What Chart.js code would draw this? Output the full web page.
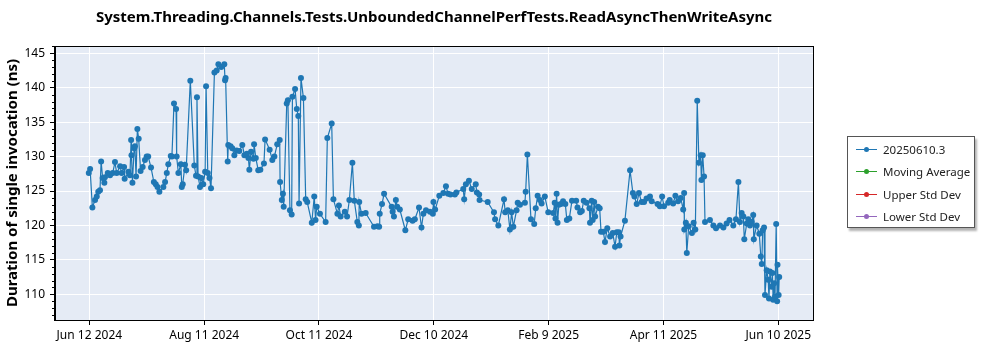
<!DOCTYPE html>
<html>
<head>
<meta charset="utf-8">
<script src="https://cdn.jsdelivr.net/npm/chart.js@4.4.0/dist/chart.umd.min.js"></script>
<style>
  body { margin: 0; background: #fff; }
  #wrap { position: relative; width: 1000px; height: 350px; }
  #legend {
    position: absolute; left: 847px; top: 136px; width: 128px; height: 92px;
    border: 1px solid #555; background: #fff; box-shadow: 2px 3px 2px rgba(0,0,0,0.3);
    font-family: "Noto Sans", sans-serif; font-size: 11.5px; color: #222;
    box-sizing: border-box; padding-top: 1px;
  }
  .row { height: 22.5px; display: flex; align-items: center; }
  .sample { position: relative; width: 21px; height: 1px; margin-left: 8px; margin-right: 6px; }
  .sample i { position: absolute; left: 8px; top: -2px; width: 5px; height: 5px; border-radius: 50%; }
</style>
</head>
<body>
<div id="wrap">
  <canvas id="myChart" width="1000" height="350"></canvas>
  <div id="legend"></div>
</div>
<script>
// days since Jun 12 2024
const days = [
  -0.3, 0.4, 1.6, 3.0, 3.9, 4.7, 5.6, 6.2, 7.0, 7.9, 8.2, 9.7, 10.9, 12.3, 13.5, 14.4, 16.2, 17.0, 18.3, 18.6,
  20.6, 21.4, 22.0, 22.2, 22.7, 23.6, 24.0, 24.6, 25.3, 26.0, 27.0, 28.1, 29.3, 30.2, 31.0, 32.5, 34.0, 35.0, 35.9, 36.9,
  39.0, 39.9, 40.8, 41.6, 42.9, 43.5, 44.6, 45.7, 46.0, 46.9, 48.2, 48.7, 49.2, 50.4, 51.0, 53.2,
  55.3, 56.2, 56.7, 57.3, 58.3, 59.0, 60.0, 61.0, 61.5, 62.4, 63.3, 64.1, 65.9, 67.1, 68.0, 69.5, 71.1, 71.5, 71.8,
  72.9, 73.2, 74.4, 75.3, 76.4, 77.6, 79.0, 80.6, 81.7, 83.0, 83.8, 84.3, 85.2, 86.5, 86.8, 87.7, 89.0, 90.1, 92.0, 92.6,
  95.0, 96.4, 97.5, 99.0, 100.3, 100.5, 101.4, 102.0, 102.4, 104.0, 104.6, 105.7, 106.6, 107.0, 108.4, 109.3, 110.1, 110.5,
  111.5, 112.8, 114.0, 114.8, 117.2, 118.5, 119.2, 119.8, 121.5, 124.5,
  125.4, 127.7, 128.6, 130.7, 131.5, 132.4, 134.6, 135.8, 137.0, 138.6, 139.6, 141.2, 142.0, 142.2, 143.4, 145.6,
  150.0, 151.8, 152.7, 153.0, 154.2, 155.3, 159.3, 159.8, 160.5, 161.5, 162.2, 163.6, 166.5, 168.0, 170.3, 171.5,
  173.7, 175.0, 176.0, 177.4, 179.5, 181.0, 181.3, 182.2, 184.4, 186.5, 187.9, 189.0, 190.3, 192.6, 193.4,
  197.0, 197.5, 198.4, 200.0, 201.5, 203.6, 204.2, 205.4, 205.6, 209.9, 213.2, 213.8, 215.5, 218.5, 219.1, 220.5,
  221.6, 222.5, 223.4, 225.1, 225.7, 226.9, 229.5, 229.9, 230.8, 232.7, 234.4, 235.2, 236.2, 237.4, 238.3, 240.0,
  241.8, 244.4, 245.2, 245.6, 246.2, 246.7, 247.4, 248.5, 249.6, 250.8, 251.6, 252.9, 254.3, 256.5, 257.2, 258.6,
  259.5, 260.5, 262.0, 263.5, 263.8, 264.7, 265.2,
  266.0, 266.5, 268.0, 268.9, 269.6, 270.8, 271.7, 272.9, 274.4, 275.8, 277.0, 277.9, 279.0, 279.3, 279.9, 282.2,
  284.9, 286.4, 287.2, 288.4, 289.6, 291.0, 292.3, 293.6, 295.4, 296.3, 299.4, 300.6, 301.8, 302.8, 305.0, 305.8,
  307.6, 308.8, 310.2, 311.6, 312.9, 313.4, 313.5, 314.3, 314.8, 315.8, 317.5, 318.4, 319.3, 320.3, 321.2, 322.1,
  322.5, 323.2, 323.9, 324.4, 327.0, 328.8, 330.2, 332.3, 334.1, 335.8, 337.3, 339.3, 340.7, 342.0, 342.8, 343.7,
  344.6, 345.1, 346.4, 347.2, 348.1, 349.0, 349.8, 350.1, 351.6, 353.0, 353.8, 354.3, 354.8, 355.5, 356.0, 356.9,
  357.7, 358.1, 358.6, 359.5, 359.9, 360.3, 360.8, 361.3, 361.9, 362.4, 362.6, 363.2, 363.5
];

// duration in ns
const durations = [
  127.6, 128.2, 122.6, 123.7, 124.2, 124.9, 125.1, 129.3, 126.9, 126.2, 127.0, 127.6, 127.3, 127.6, 129.2, 127.6, 128.6, 127.6, 128.5, 126.8,
  127.8, 127.3, 132.4, 130.2, 126.2, 131.2, 131.5, 127.1, 134.0, 132.6, 127.9, 128.5, 129.5, 130.0, 130.0, 128.4, 126.3, 126.0, 125.6, 124.9,
  125.6, 126.3, 127.6, 128.9, 130.1, 130.0, 137.7, 136.9, 130.0, 127.6, 128.9, 125.6, 126.0, 128.8, 128.0, 141.0,
  128.7, 127.2, 138.6, 127.1, 125.6, 126.9, 126.0, 127.8, 140.2, 127.6, 126.9, 125.4, 142.2, 142.5, 143.4, 143.0, 143.4, 141.1, 141.4,
  129.3, 131.7, 131.5, 131.2, 130.2, 130.9, 130.8, 131.7, 130.2, 130.4, 129.8, 128.1, 130.7, 129.7, 131.8, 129.8, 128.0, 128.1, 129.0, 132.5,
  131.0, 129.5, 130.0, 131.8, 132.4, 126.3, 123.7, 124.6, 122.7, 137.7, 138.2, 122.2, 121.6, 138.7, 139.8, 136.9, 135.9, 123.2,
  141.4, 138.5, 123.8, 123.4, 120.4, 124.2, 120.8, 122.7, 121.7, 120.5,
  132.7, 134.8, 123.8, 121.7, 122.9, 121.3, 122.0, 121.3, 123.7, 129.1, 123.6, 120.5, 120.0, 123.4, 121.7, 121.8,
  119.8, 119.9, 119.8, 121.7, 123.1, 124.6, 122.7, 122.0, 121.3, 123.7, 122.7, 122.3, 119.3, 120.9, 120.7, 120.9,
  122.6, 119.7, 121.7, 122.2, 122.0, 121.7, 123.4, 122.3, 124.3, 124.7, 125.7, 124.6, 124.5, 124.5, 124.8,
  125.3, 123.8, 126.0, 126.5, 125.3, 126.0, 124.8, 124.5, 123.7, 123.4, 121.9, 120.9, 120.0, 123.8, 121.9, 122.2,
  119.4, 121.9, 119.8, 122.2, 123.3, 123.0, 123.3, 124.9, 130.3, 120.9, 120.2, 122.5, 124.3, 123.7, 123.2, 124.2,
  121.9, 121.8, 123.3, 121.0, 124.6, 120.4, 123.0, 123.1, 123.5, 123.1, 120.8, 121.0, 123.6, 123.6, 122.6, 121.9,
  122.1, 123.6, 123.3, 122.5, 120.4, 123.6, 120.8,
  123.4, 121.3, 122.7, 122.5, 119.1, 119.1, 117.6, 119.6, 118.4, 118.9, 116.9, 119.0, 119.0, 117.1, 118.4, 120.7,
  128.0, 124.7, 124.2, 123.1, 124.7, 123.4, 123.4, 123.9, 124.2, 123.5, 123.1, 122.8, 124.2, 122.8, 123.3, 123.7,
  123.2, 124.3, 123.5, 124.0, 122.3, 124.7, 119.4, 120.4, 116.0, 119.9, 118.9, 120.4, 119.4, 138.1, 129.1, 130.2,
  126.6, 130.2, 127.1, 120.5, 120.8, 120.0, 119.6, 120.0, 119.7, 120.3, 120.8, 120.0, 120.9, 126.3, 120.5, 121.8,
  121.3, 118.0, 120.3, 120.9, 120.0, 120.5, 121.5, 118.0, 120.0, 118.8, 115.5, 114.4, 119.3, 119.7, 109.9, 113.5,
  112.1, 109.4, 113.3, 111.1, 113.1, 109.2, 111.6, 109.7, 120.2, 109.0, 114.3, 109.9, 112.5
];

const tickDays = [0, 60.5, 121, 181.5, 242, 302.5, 363];
const tickLabels = ['Jun 12 2024', 'Aug 11 2024', 'Oct 11 2024', 'Dec 10 2024', 'Feb 9 2025', 'Apr 11 2025', 'Jun 10 2025'];
const yTicks = [110, 115, 120, 125, 130, 135, 140, 145];

const seriesNames = ['20250610.3', 'Moving Average', 'Upper Std Dev', 'Lower Std Dev'];
const seriesColors = ['#1f77b4', '#2ca02c', '#d62728', '#9467bd'];

const points = days.map((d, i) => ({ x: d, y: durations[i] }));

// plot background, frame and minor y ticks
const framePlugin = {
  id: 'frame',
  beforeDraw(chart) {
    const a = chart.chartArea, ctx = chart.ctx;
    ctx.save();
    ctx.fillStyle = '#e5ebf5';
    ctx.fillRect(a.left, a.top, a.right - a.left, a.bottom - a.top);
    ctx.restore();
  },
  afterDraw(chart) {
    const a = chart.chartArea, ctx = chart.ctx, y = chart.scales.y;
    ctx.save();
    ctx.strokeStyle = '#000';
    ctx.lineWidth = 1;
    ctx.strokeRect(Math.round(a.left) - 0.5, Math.round(a.top) + 0.5, Math.round(a.right - a.left) + 1, Math.round(a.bottom - a.top));
    ctx.beginPath();
    for (let v = Math.ceil(y.min); v <= y.max; v++) {
      if (v % 5 === 0) continue;
      const py = Math.round(y.getPixelForValue(v)) + 0.5;
      ctx.moveTo(a.left - 3, py);
      ctx.lineTo(a.left, py);
    }
    ctx.stroke();
    ctx.restore();
  }
};

const ctx = document.getElementById('myChart').getContext('2d');
const myChart = new Chart(ctx, {
  type: 'line',
  data: {
    datasets: seriesNames.map((name, i) => ({
      label: name,
      data: i === 0 ? points : [],
      borderColor: seriesColors[i],
      backgroundColor: seriesColors[i],
      borderWidth: 1.2,
      pointRadius: 3,
      pointBorderWidth: 0,
      tension: 0
    }))
  },
  options: {
    responsive: false,
    animation: false,
    layout: { padding: { left: 0, right: 187, top: 0, bottom: 0 } },
    plugins: {
      legend: { display: false },
      tooltip: { enabled: false },
      title: {
        display: true,
        fullSize: false,
        text: 'System.Threading.Channels.Tests.UnboundedChannelPerfTests.ReadAsyncThenWriteAsync',
        color: '#000',
        font: { family: 'Noto Sans', size: 15, weight: 'bold' },
        padding: { top: 9, bottom: 19 }
      }
    },
    scales: {
      x: {
        type: 'linear',
        min: -18.1,
        max: 381.3,
        afterBuildTicks: s => { s.ticks = tickDays.map(v => ({ value: v })); },
        afterFit: s => { s.height = 30; },
        ticks: {
          autoSkip: false,
          maxRotation: 0,
          padding: 3,
          color: '#000',
          font: { family: 'Noto Sans', size: 12 },
          callback: (v, i) => tickLabels[i]
        },
        grid: { color: '#fff', lineWidth: 1, tickColor: '#000', tickLength: 5 },
        border: { color: '#000' }
      },
      y: {
        min: 106.27,
        max: 146.06,
        afterBuildTicks: s => { s.ticks = yTicks.map(v => ({ value: v })); },
        afterFit: s => { s.width = 55; },
        ticks: {
          padding: 5,
          color: '#000',
          font: { family: 'Noto Sans', size: 12 }
        },
        grid: { color: '#fff', lineWidth: 1, tickColor: '#000', tickLength: 5 },
        border: { color: '#000' },
        title: {
          display: true,
          text: 'Duration of single invocation (ns)',
          color: '#000',
          font: { family: 'Noto Sans', size: 15, weight: 'bold' },
          padding: { top: 4, bottom: 0 }
        }
      }
    }
  },
  plugins: [framePlugin]
});

// legend box on the right
const legend = document.getElementById('legend');
myChart.data.datasets.forEach(ds => {
  const row = document.createElement('div');
  row.className = 'row';
  row.innerHTML = '<span class="sample" style="background:' + ds.borderColor + '"><i style="background:' + ds.borderColor + '"></i></span>' + ds.label;
  legend.appendChild(row);
});
</script>
</body>
</html>
